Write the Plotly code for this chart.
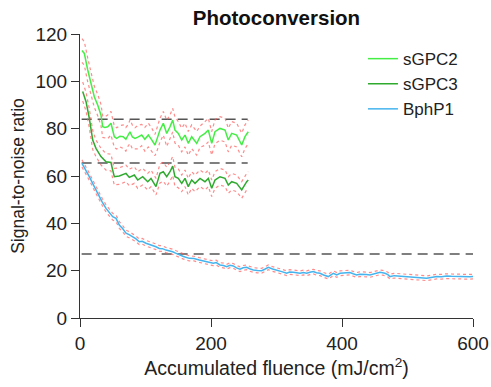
import plotly.graph_objects as go

# ---- data ----
sgpc2_x = [3, 6.6, 11.8, 16.8, 21.8, 27, 32, 34.7, 38, 42.3, 47.3, 52.4, 56, 61, 66, 70, 73.7, 76.3, 80, 84,
           89, 94.2, 99, 104.3, 109, 114.5, 118,
           122.1, 127.2, 132.4, 137.4, 141.5, 145, 150.1, 155.3, 160.3, 165.3, 170.5, 178.2, 183.2, 190.8,
           195.9, 201.1, 206.1, 213.7, 221.4, 226.4, 231.6, 239.2, 246.9, 251.9, 256.9]
sgpc2_y = [113, 111.8, 104.8, 99.1, 93.5, 90, 85.8, 80.8, 80.5, 80.8, 82.3, 76.6, 75.9, 76.8, 76.6, 75.5, 77.3, 78.7, 76.5, 75.9,
           76.5, 77.3, 75.5, 77.3, 75.5, 73.1, 76,
           79.4, 82.3, 78, 80.8, 83.6, 79.4, 78, 75.2, 77.3, 73.8, 76.6, 73.8, 76.6, 78,
           79.4, 73.8, 78.7, 80.1, 79.4, 75.2, 78, 77.3, 73.1, 76.6, 78.7]
sgpc2_err = [5, 5, 5, 5, 4.5, 4.5, 4.5, 4.5, 4.5, 5, 5, 4.5, 4.5, 4.5, 5, 5, 4.5, 5, 5, 4.5,
             5, 4.5, 5, 5, 5, 4.5, 5,
             5, 5, 5.5, 5, 5, 5.5, 5, 5, 5, 5, 5, 5, 4.5, 5,
             5, 5, 5, 5, 5, 5, 5, 5, 5, 5, 5]

sgpc3_x = [4.1, 9.2, 14.2, 19.4, 24.4, 32, 39.7, 47.3, 49.9, 52.4, 60, 70.2, 75.3, 82.9, 88.1, 95.7, 103.4,
           108.4, 116, 122.1, 127.2, 132.4, 137.4, 141.5, 145, 150.1, 155.3, 160.3, 165.3, 170.5, 175.6,
           183.2, 190.8, 195.9, 201.1, 206.1, 213.7, 221.4, 226.4, 231.6, 239.2, 246.9, 254.5, 256.9]
sgpc3_y = [95.7, 91.4, 84.4, 75.2, 71.7, 68.2, 66, 65.7, 62.5, 59.7, 60, 61.1, 59.4, 60.4, 58.3, 59.7, 57.6,
           59, 55.5, 61.1, 61.8, 59.7, 61.8, 64.2, 59.7, 59, 56.9, 59, 55.5, 58.3, 56.9,
           59, 57.6, 59, 54.8, 58.3, 59.7, 59, 56.2, 57.6, 56.9, 54.1, 57.6, 58.3]
sgpc3_err = [4, 4, 4, 4, 3.5, 3.5, 3.5, 3.5, 3.5, 3.5, 3.5, 3.5, 3.5, 3.5, 3.5, 3.5, 3.5,
             3.5, 3.5, 4, 4, 4, 4, 4, 4, 4, 3.5, 3.5, 3.5, 3.5, 3.5,
             3.5, 3.5, 3.5, 3.5, 3.5, 3.5, 3.5, 3.5, 3.5, 3.5, 3.5, 3.5, 3.5]

bph_x = [3, 8, 14.2, 21.8, 29.5, 34, 39.7, 45, 49.9, 55, 60, 65, 70.2, 75, 80.5, 85, 90.5, 95, 100.8, 106,
         111, 116, 121, 126, 131.3, 136, 141.5, 146, 151.6, 158, 166.9, 174, 182.1, 192, 203.5, 208, 213.7,
         219, 224, 229, 234, 239, 244.3, 249, 254.5, 259, 264.6, 271, 277.4, 282, 287.5, 294, 300.3, 308,
         315.6, 320, 325.6, 330, 335.9, 341, 346.1, 351, 356.2, 361, 366.4, 372, 379, 386.7, 392, 397,
         405, 412.2, 417, 422.4, 427, 432.5, 437, 442.7, 450, 458, 462, 465.6, 470, 473.3, 480, 488.5,
         496, 503.8, 509, 514, 521, 529.3, 536, 544.6, 552, 559.8, 567, 575, 583, 590.4, 595, 600]
bph_y = [65.3, 62.5, 59.7, 55.5, 51.2, 49, 46.3, 44.5, 42.8, 42.1, 39.3, 37.8, 35.8, 35.2, 34.3, 33.5, 32.2,
         32.4, 31.6, 31.1, 30.8, 30.1, 29.4, 29.3, 28.7, 28.4, 28, 27.4, 26.6, 26, 25.2, 25.1, 24.5, 23.8,
         23.1, 23.4, 22.4, 22.2, 21.7, 22.3, 22, 21.2, 20.6, 21.2, 21.4, 20.8, 20.3, 20.1, 20, 20.6, 21.4,
         20.7, 20.3, 19.6, 18.9, 19.4, 19.3, 19, 18.9, 19.2, 18.9, 19.3, 19.6, 19.1, 18.9, 18.2, 17.5, 18.9,
         18.2, 18.9, 19.1, 19.2, 18.7, 18.2, 18.5, 18.6, 18.4, 18.2, 18.8, 19.3, 19.1, 18.9, 18.3, 17.5, 17.9,
         17.7, 17.4, 17.5, 17.4, 17.2, 17, 16.8, 17.1, 17.5, 17.4, 17.7, 17.6, 17.5, 17.3, 17.2, 17.4, 17.5]
bph_err = [1.5, 1.5, 1.5, 1.5, 1.5, 1.5, 1.5, 1.4, 1.4, 1.4, 1.4, 1.3, 1.3, 1.3, 1.3, 1.2, 1.2,
           1.2, 1.2, 1.2, 1.2, 1.2, 1.2, 1.2, 1.1, 1.1, 1.1, 1.1, 1.1, 1.1, 1.1, 1, 1, 1,
           1, 1, 1, 1, 1, 1, 1, 1, 1, 1, 1, 1, 1, 1, 1, 1, 1,
           1, 1, 1, 1, 1, 1, 1, 1, 1, 1, 1, 1, 1, 1, 1, 1, 1,
           1, 1, 1, 1, 1, 1, 1, 1, 1, 1, 1, 1, 1, 1, 1, 1, 1,
           1, 1, 1, 1, 1, 1, 1, 1, 1, 1, 1, 1, 1, 1, 1, 1, 1]

ref_levels = [84, 65.5, 27]
ref_start = [2.5, 2.5, 2.5]
ref_end = [256, 256, 600]

series = [
    ("sGPC2", sgpc2_x, sgpc2_y, sgpc2_err, "#44ee44"),
    ("sGPC3", sgpc3_x, sgpc3_y, sgpc3_err, "#2faa2f"),
    ("BphP1", bph_x, bph_y, bph_err, "#45b4ee"),
]

FONT = "Liberation Sans, Arial, sans-serif"
fig = go.Figure()

# dashed reference lines
for lvl, x0, x1 in zip(ref_levels, ref_start, ref_end):
    fig.add_trace(go.Scatter(x=[x0, x1], y=[lvl, lvl], mode="lines",
                             line=dict(color="#555555", width=1.5, dash="10px,6px"),
                             showlegend=False, hoverinfo="skip"))

# error bands as red dotted lines
for name, xs, ys, es, col in series:
    up = [y + e for y, e in zip(ys, es)]
    lo = [y - e for y, e in zip(ys, es)]
    for band in (up, lo):
        fig.add_trace(go.Scatter(x=xs, y=band, mode="lines",
                                 line=dict(color="rgba(255,90,90,0.7)", width=1.2, dash="dot"),
                                 showlegend=False, hoverinfo="skip"))

# main series
for i, (name, xs, ys, es, col) in enumerate(series):
    fig.add_trace(go.Scatter(x=xs, y=ys, mode="lines", name=name,
                             line=dict(color=col, width=1.5)))

fig.update_layout(
    width=491, height=387,
    margin=dict(l=80, r=18, t=34, b=69),
    paper_bgcolor="white", plot_bgcolor="white",
    font=dict(family=FONT, color="#222222"),
    title=dict(text="<b>Photoconversion</b>", x=0.563, xanchor="center", y=0.955, yanchor="middle",
               font=dict(size=20.5, family=FONT, color="#111111")),
    showlegend=True,
    legend=dict(x=0.72, y=0.975, xanchor="left", yanchor="top", bgcolor="rgba(0,0,0,0)",
                font=dict(size=17, family=FONT, color="#222222"), tracegroupgap=0,
                itemwidth=30),
)
fig.update_xaxes(range=[0, 600], tickvals=[0, 200, 400, 600], showline=True, linecolor="#333333",
                 linewidth=1.2, ticks="outside", ticklen=8, tickcolor="#333333", showgrid=False,
                 zeroline=False, automargin=False, tickfont=dict(size=19, family=FONT, color="#222222"),
                 title=dict(text="Accumulated fluence (mJ/cm<sup>2</sup>)", standoff=8,
                            font=dict(size=19.5, family=FONT, color="#222222")))
fig.update_yaxes(range=[0, 120], tickvals=[0, 20, 40, 60, 80, 100, 120], showline=True,
                 linecolor="#333333", linewidth=1.2, ticks="outside", ticklen=8, tickcolor="#333333",
                 showgrid=False, zeroline=False, automargin=False,
                 tickfont=dict(size=19, family=FONT, color="#222222"),
                 title=dict(text="Signal-to-noise ratio", standoff=6,
                            font=dict(size=17.5, family=FONT, color="#222222")))

fig.write_html("out.html")
